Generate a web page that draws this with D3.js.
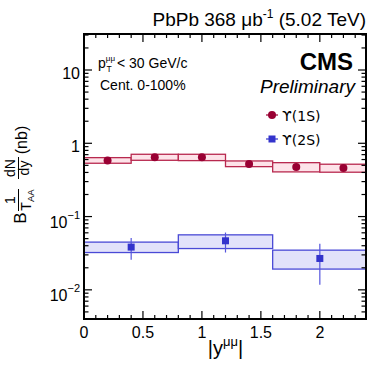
<!DOCTYPE html>
<html><head><meta charset="utf-8">
<script src="https://cdn.jsdelivr.net/npm/d3@7"></script>
<style>body{margin:0;background:#fff}svg{display:block;font-family:"Liberation Sans",Arial,sans-serif}</style>
</head><body>
<svg id="c" width="368" height="368"></svg>
<script>
// ---- data ----
const edges1S = [0, 0.4, 0.8, 1.2, 1.6, 2.0, 2.4];
const y1S = [0.58, 0.644, 0.644, 0.52, 0.475, 0.46];
const sysLo1S = [0.534, 0.586, 0.58, 0.48, 0.407, 0.403];
const sysHi1S = [0.637, 0.708, 0.708, 0.574, 0.544, 0.518];

const edges2S = [0, 0.8, 1.6, 2.4];
const y2S = [0.0383, 0.0467, 0.0268];
const statLo2S = [0.0257, 0.0323, 0.0117];
const statHi2S = [0.0508, 0.0605, 0.0425];
const sysLo2S = [0.0323, 0.0366, 0.0192];
const sysHi2S = [0.0448, 0.0563, 0.0348];

const xTicks = [0, 0.5, 1, 1.5, 2];
const xTickLabels = ["0", "0.5", "1", "1.5", "2"];
const yTicks = [0.01, 0.1, 1, 10];
const yTickBase = ["10", "10", "1", "10"];
const yTickExp = ["\u22122", "\u22121", "", ""];

const legendLabels = ["\u03D2(1S)", "\u03D2(2S)"];

// ---- layout ----
const L = 84, R = 367, T = 34, B = 319;
const svg = d3.select("#c");
const x = d3.scaleLinear().domain([0, 2.4]).range([L, R]);
const y = d3.scaleLog().domain([0.004, 31]).range([B, T]);

const c1 = "#990033", c1f = "#fde3e9", c1s = "#b8294f";
const c2 = "#3333cc", c2f = "#e2e2fa", c2s = "#4a4ad6";

svg.append("defs").append("clipPath").attr("id", "pc")
  .append("rect").attr("x", L).attr("y", T).attr("width", R - L).attr("height", B - T);
const plot = svg.append("g").attr("clip-path", "url(#pc)");

// 1S boxes
const d1 = y1S.map((v, i) => ({x0: edges1S[i], x1: edges1S[i + 1], v, lo: sysLo1S[i], hi: sysHi1S[i]}));
plot.selectAll(".b1").data(d1).join("rect")
  .attr("x", d => x(d.x0)).attr("width", d => x(d.x1) - x(d.x0))
  .attr("y", d => y(d.hi)).attr("height", d => y(d.lo) - y(d.hi))
  .attr("fill", c1f).attr("stroke", c1s).attr("stroke-width", 1.3);
// 2S boxes
const d2 = y2S.map((v, i) => ({x0: edges2S[i], x1: edges2S[i + 1], v, lo: sysLo2S[i], hi: sysHi2S[i], slo: statLo2S[i], shi: statHi2S[i]}));
plot.selectAll(".b2").data(d2).join("rect")
  .attr("x", d => x(d.x0)).attr("width", d => x(d.x1) - x(d.x0))
  .attr("y", d => y(d.hi)).attr("height", d => y(d.lo) - y(d.hi))
  .attr("fill", c2f).attr("stroke", c2s).attr("stroke-width", 1.3);
// 2S stat errors
plot.selectAll(".e2").data(d2).join("line")
  .attr("x1", d => x((d.x0 + d.x1) / 2)).attr("x2", d => x((d.x0 + d.x1) / 2))
  .attr("y1", d => y(d.shi)).attr("y2", d => y(d.slo))
  .attr("stroke", "#5555dd").attr("stroke-width", 1.2);
// 1S points
plot.selectAll(".p1").data(d1).join("circle")
  .attr("cx", d => x((d.x0 + d.x1) / 2)).attr("cy", d => y(d.v)).attr("r", 4).attr("fill", c1);
// 2S points
plot.selectAll(".p2").data(d2).join("rect")
  .attr("x", d => x((d.x0 + d.x1) / 2) - 3.5).attr("y", d => y(d.v) - 3.5)
  .attr("width", 7).attr("height", 7).attr("fill", c2);

// ---- axes ticks ----
const ax = svg.append("g");
const xMinor = d3.range(0, 24).map(i => i / 10).filter(v => Math.abs(v * 2 - Math.round(v * 2)) > 1e-6);
function tickLines(vals, len, side) {
  vals.forEach(v => {
    const px = x(v);
    if (side === "b") ax.append("line").attr("x1", px).attr("x2", px).attr("y1", B).attr("y2", B - len);
    else ax.append("line").attr("x1", px).attr("x2", px).attr("y1", T).attr("y2", T + len);
  });
}
tickLines(xTicks, 8, "b"); tickLines(xTicks, 8, "t");
tickLines(xMinor, 4, "b"); tickLines(xMinor, 4, "t");
const yAll = y.ticks().filter(v => v >= 0.004 && v <= 31);
yAll.forEach(v => {
  const major = Math.abs(Math.log10(v) - Math.round(Math.log10(v))) < 1e-6;
  const len = major ? 8 : 4.5;
  ax.append("line").attr("x1", L).attr("x2", L + len).attr("y1", y(v)).attr("y2", y(v));
  ax.append("line").attr("x1", R - 1).attr("x2", R - 1 - len).attr("y1", y(v)).attr("y2", y(v));
});
ax.selectAll("line").attr("stroke", "#000").attr("stroke-width", 1.2);
// frame
svg.append("rect").attr("x", L).attr("y", T).attr("width", R - 1 - L).attr("height", B - T)
  .attr("fill", "none").attr("stroke", "#000").attr("stroke-width", 2);

// ---- tick labels ----
svg.selectAll(".xl").data(xTicks).join("text")
  .attr("x", d => x(d)).attr("y", 338).attr("text-anchor", "middle")
  .attr("font-size", 16).text((d, i) => xTickLabels[i]);
yTicks.forEach((v, i) => {
  const t = svg.append("text").attr("text-anchor", "end").attr("font-size", 16);
  if (yTickExp[i]) {
    t.attr("x", 80).attr("y", y(v) + 11);
    t.append("tspan").text(yTickBase[i]);
    t.append("tspan").attr("font-size", 11).attr("dy", -9).text(yTickExp[i]);
  } else {
    t.attr("x", 80).attr("y", y(v) + 8.5).text(yTickBase[i]);
  }
});

// ---- axis titles ----
const xt = svg.append("text").attr("x", (L + R) / 2).attr("y", 355).attr("text-anchor", "middle").attr("font-size", 20);
xt.append("tspan").text("|y");
xt.append("tspan").attr("font-size", 13).attr("dy", -9).text("\u03BC\u03BC");
xt.append("tspan").attr("dy", 9).text("|");

const yt = svg.append("g").attr("transform", "rotate(-90)");
yt.append("text").attr("x", -218).attr("y", 26).attr("text-anchor", "middle").attr("font-size", 17).text("B");
yt.append("text").attr("x", -200).attr("y", 15).attr("text-anchor", "middle").attr("font-size", 14).text("1");
yt.append("line").attr("x1", -211).attr("x2", -189).attr("y1", 18.5).attr("y2", 18.5).attr("stroke", "#000").attr("stroke-width", 1);
const ta = yt.append("text").attr("x", -200).attr("y", 31).attr("text-anchor", "middle").attr("font-size", 14);
ta.append("tspan").text("T");
ta.append("tspan").attr("font-size", 9.5).attr("dy", 3).text("AA");
yt.append("text").attr("x", -168).attr("y", 15).attr("text-anchor", "middle").attr("font-size", 14).text("dN");
yt.append("line").attr("x1", -179).attr("x2", -157).attr("y1", 18.5).attr("y2", 18.5).attr("stroke", "#000").attr("stroke-width", 1);
yt.append("text").attr("x", -168).attr("y", 29).attr("text-anchor", "middle").attr("font-size", 14).text("dy");
yt.append("text").attr("x", -140).attr("y", 27).attr("text-anchor", "middle").attr("font-size", 16).text("(nb)");

// ---- header text ----
const tt = svg.append("text").attr("x", 366).attr("y", 26).attr("text-anchor", "end").attr("font-size", 19);
tt.append("tspan").text("PbPb 368 \u03BCb");
tt.append("tspan").attr("font-size", 12).attr("dy", -8).text("-1");
tt.append("tspan").attr("dy", 8).text(" (5.02 TeV)");

svg.append("text").attr("x", 353).attr("y", 70).attr("text-anchor", "end").attr("font-size", 24).attr("font-weight", "bold").text("CMS");
svg.append("text").attr("x", 355).attr("y", 93).attr("text-anchor", "end").attr("font-size", 19).attr("font-style", "italic").text("Preliminary");

const pt = svg.append("text").attr("x", 98).attr("y", 68).attr("font-size", 14);
pt.append("tspan").text("p");
pt.append("tspan").attr("font-size", 8).attr("dy", -7).text("\u03BC\u03BC");
pt.append("tspan").attr("font-size", 8.5).attr("x", 106.5).attr("dy", 11).text("T");
pt.append("tspan").attr("x", 117).attr("dy", -4).text("< 30 GeV/c");
svg.append("text").attr("x", 100).attr("y", 90).attr("font-size", 14).text("Cent. 0-100%");

// ---- legend ----
const lg = svg.append("g");
const lgY = [115, 139];
lg.append("line").attr("x1", 266).attr("x2", 278).attr("y1", lgY[0]).attr("y2", lgY[0]).attr("stroke", c1).attr("stroke-width", 1.2);
lg.append("circle").attr("cx", 272).attr("cy", lgY[0]).attr("r", 4).attr("fill", c1);
lg.append("line").attr("x1", 266).attr("x2", 278).attr("y1", lgY[1]).attr("y2", lgY[1]).attr("stroke", c2).attr("stroke-width", 1.2);
lg.append("rect").attr("x", 268.5).attr("y", lgY[1] - 3.5).attr("width", 7).attr("height", 7).attr("fill", c2);
legendLabels.forEach((s, i) => {
  lg.append("text").attr("x", 282).attr("y", lgY[i] + 6).attr("font-size", 14).attr("font-family", "DejaVu Sans").text(s);
});
</script>
</body></html>
